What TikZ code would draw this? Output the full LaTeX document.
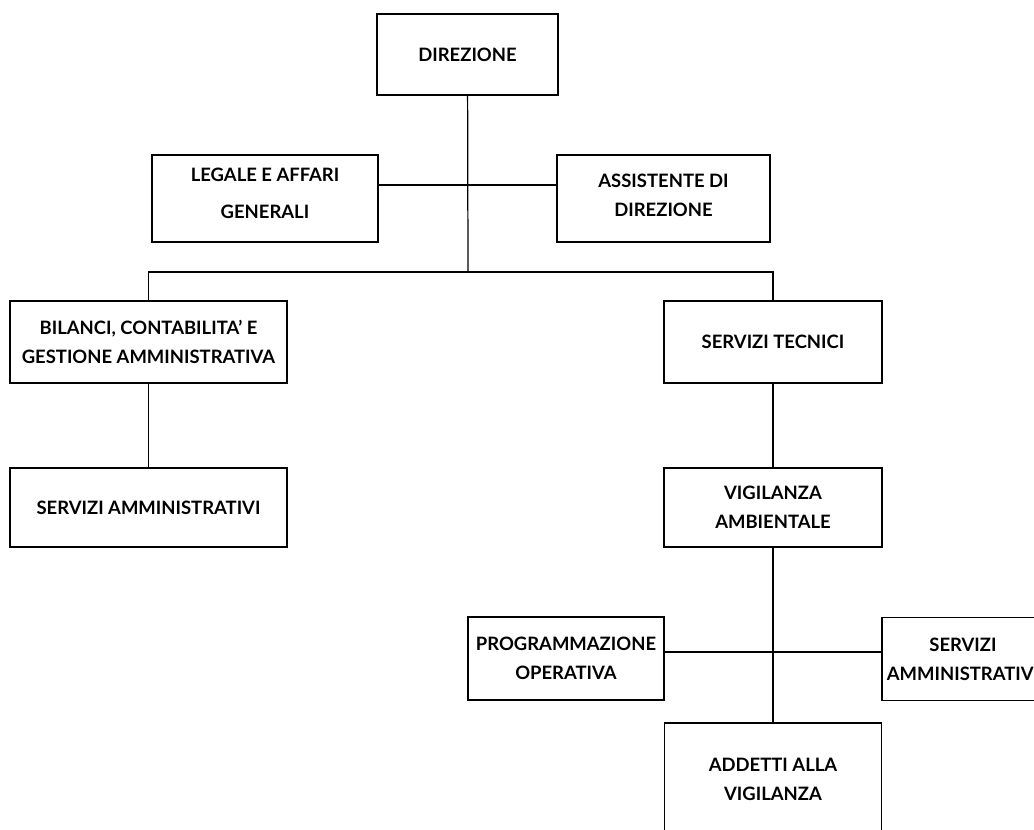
\documentclass[tikz,border=0pt]{standalone}
\usepackage{fontspec}
\setmainfont{Lato}
\usepackage{tikz}

\begin{document}
\begin{tikzpicture}[
  x=0.02cm, y=-0.02cm,
  unit/.style={draw, line width=0.7pt, align=center, inner sep=0pt,
    font=\bfseries\fontsize{10.5}{16.5}\selectfont},
  link/.style={line width=0.7pt},
]
\clip (0,0) rectangle (1034,829);
\useasboundingbox (0,0) rectangle (1034,829);

% top level
\node[unit, minimum width=3.62cm, minimum height=1.62cm] (dir) at (467.5,54.5) {DIREZIONE};
\node[unit, minimum width=4.52cm, minimum height=1.74cm,
  font=\bfseries\fontsize{10.5}{21}\selectfont] (leg) at (265,198.5) {LEGALE E AFFARI\\GENERALI\rule[-6pt]{0pt}{0pt}};
\node[unit, minimum width=4.26cm, minimum height=1.74cm] (ass) at (663.5,198.5) {ASSISTENTE DI\\DIREZIONE\rule[-4pt]{0pt}{0pt}};

% left branch
\node[unit, minimum width=5.54cm, minimum height=1.64cm] (bil) at (148.5,342) {BILANCI, CONTABILITA' E\\GESTIONE AMMINISTRATIVA};
\node[unit, minimum width=5.54cm, minimum height=1.58cm] (amml) at (148.5,507.5) {SERVIZI AMMINISTRATIVI};

% right branch
\node[unit, minimum width=4.36cm, minimum height=1.64cm] (tec) at (773,342) {SERVIZI TECNICI};
\node[unit, minimum width=4.36cm, minimum height=1.58cm] (vig) at (773,507.5) {VIGILANZA\\AMBIENTALE};
\node[unit, minimum width=3.92cm, minimum height=1.66cm] (prog) at (566,658.5) {PROGRAMMAZIONE\\OPERATIVA};
\node[unit, minimum width=3.24cm, minimum height=1.66cm] (ammr) at (963,659) {SERVIZI\\AMMINISTRATIVI};
\node[unit, minimum width=4.34cm, minimum height=2.24cm] (add) at (773,779) {ADDETTI ALLA\\VIGILANZA};

\coordinate (staff) at (468,185);
\coordinate (split) at (468,272);
\coordinate (field) at (770,652);

\draw[link] (dir) -- (split);
\draw[link] (leg.east |- staff) -- (ass.west |- staff);
\draw[link] (split) -| (bil);
\draw[link] (split) -| (tec);
\draw[link] (bil) -- (amml);
\draw[link] (tec) -- (vig);
\draw[link] (vig) -- (add);
\draw[link] (prog.east |- field) -- (ammr.west |- field);
\end{tikzpicture}
\end{document}
